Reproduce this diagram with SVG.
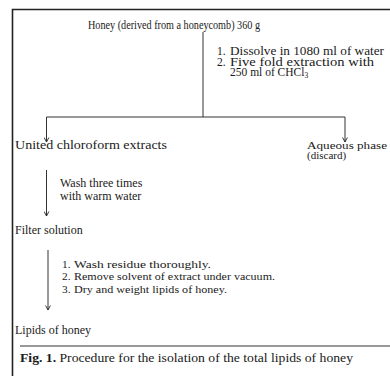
<svg xmlns="http://www.w3.org/2000/svg" width="390" height="376" viewBox="0 0 390 376">
<defs>
<marker id="ah" markerWidth="6" markerHeight="6" refX="5.5" refY="3" orient="auto" markerUnits="userSpaceOnUse" viewBox="0 0 6 6">
<path d="M1,0.6 L5.5,3 L1,5.4" fill="none" stroke="#222" stroke-width="0.9"/>
</marker>
<style>
text{font-family:"Liberation Serif","Times New Roman",serif;font-size:12px;fill:#1a1a1a}
.s{font-size:11px}
.l{font-size:11.5px}
.m{font-size:11.3px}
.b{font-weight:bold}
.ln{stroke:#333;stroke-width:1;fill:none}
.fr{stroke:#222;stroke-width:1.6;fill:none}
</style>
</defs>
<rect width="390" height="376" fill="#fff"/>
<g id="frame">
<path class="fr" d="M12.5,376 V9.5 H390"/>
<path d="M20,346 H390" stroke="#333" stroke-width="1.2"/>
</g>
<g id="connectors">
<path class="ln" d="M203,32 V117"/>
<path class="ln" d="M46.5,117 H345"/>
<path class="ln" d="M46.5,117 V142" marker-end="url(#ah)"/>
<path class="ln" d="M345,117 V142" marker-end="url(#ah)"/>
<path class="ln" d="M46.5,170 V216" marker-end="url(#ah)"/>
<path class="ln" d="M48,250 V310" marker-end="url(#ah)"/>
</g>
<g id="honey"><text x="88" y="29" font-size="11" textLength="172" lengthAdjust="spacingAndGlyphs">Honey (derived from a honeycomb) 360 g</text></g>
<g id="step1">
<text class="l" x="217" y="55">1.</text><text class="l" x="230" y="55" textLength="154" lengthAdjust="spacingAndGlyphs">Dissolve in 1080 ml of water</text>
<text class="l" x="217" y="65.5">2.</text><text class="l" x="230" y="65.5" textLength="144" lengthAdjust="spacingAndGlyphs">Five fold extraction with</text>
<text class="l" x="230" y="76">250 ml of CHCl<tspan font-size="7.5" dy="2">3</tspan></text>
</g>
<g id="united"><text x="15" y="149" font-size="12.8" textLength="152" lengthAdjust="spacingAndGlyphs">United chloroform extracts</text></g>
<g id="aqueous"><text class="s" x="307" y="148.5" textLength="80" lengthAdjust="spacingAndGlyphs">Aqueous phase</text><text class="s" x="307" y="159">(discard)</text></g>
<g id="step2"><text x="60" y="187">Wash three times</text><text x="60" y="200">with warm water</text></g>
<g id="filter"><text x="15" y="234">Filter solution</text></g>
<g id="step3">
<text class="m" x="62" y="267.5">1.</text><text class="m" x="74" y="267.5" textLength="137" lengthAdjust="spacingAndGlyphs">Wash residue thoroughly.</text>
<text class="m" x="62" y="280">2.</text><text class="m" x="74" y="280" textLength="201" lengthAdjust="spacingAndGlyphs">Remove solvent of extract under vacuum.</text>
<text class="m" x="62" y="292.5">3.</text><text class="m" x="74" y="292.5" textLength="153" lengthAdjust="spacingAndGlyphs">Dry and weight lipids of honey.</text>
</g>
<g id="lipids"><text x="15" y="334">Lipids of honey</text></g>
<g id="caption"><text x="20" y="362" font-size="12.5" textLength="333" lengthAdjust="spacingAndGlyphs"><tspan class="b">Fig. 1.</tspan> Procedure for the isolation of the total lipids of honey</text></g>
</svg>
